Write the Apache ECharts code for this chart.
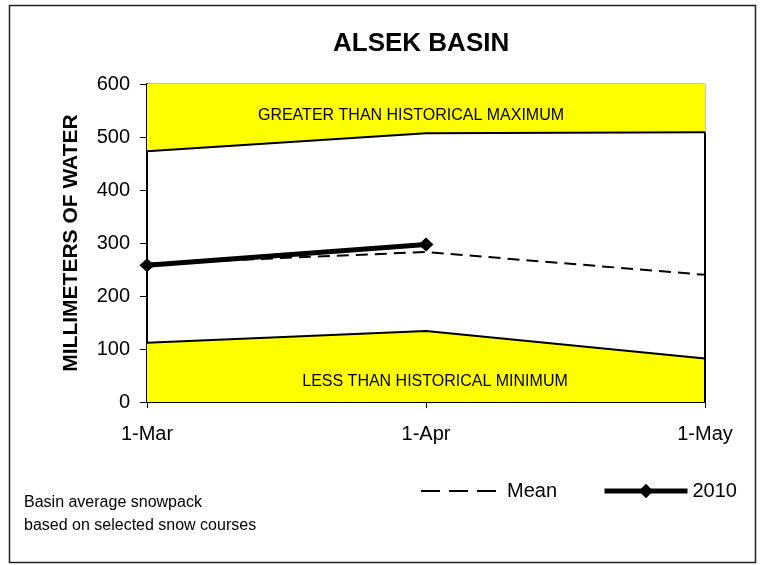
<!DOCTYPE html>
<html lang="en">
<head>
    <meta charset="UTF-8">
    <title>Alsek Basin snowpack</title>
    <script src="https://cdn.jsdelivr.net/npm/echarts@6/dist/echarts.min.js"></script>
    <style>
        html, body { margin: 0; padding: 0; background: #fff; }
        #chart { width: 765px; height: 565px; }
    </style>
</head>
<body>
<div id="chart"></div>
<script type="text/javascript">
    const months = ['1-Mar', '1-Apr', '1-May'];
    const yTicks = [0, 100, 200, 300, 400, 500, 600];
    const histMax = [473, 507, 509];
    const histMin = [112, 134, 82];
    const meanVals = [261, 283, 240];
    const vals2010 = [258, 297, null];

    const font = '"Liberation Sans", Arial, sans-serif';
    const yellow = '#ffff00';

    let chart = echarts.init(document.getElementById('chart'));

    chart.setOption({
        animation: false,
        title: {
            text: 'ALSEK BASIN',
            left: 333,
            top: 31,
            padding: 0,
            textStyle: { fontFamily: font, fontSize: 26, fontWeight: 'bold', color: '#000' }
        },
        grid: {
            left: 147, right: 60, top: 84, bottom: 163,
            show: true, borderColor: '#888', borderWidth: 1, backgroundColor: 'transparent'
        },
        legend: [
            {
                data: ['Mean'],
                left: 420, top: 481, padding: 0,
                itemWidth: 76, itemHeight: 18,
                textStyle: { fontFamily: font, fontSize: 20, color: '#000', padding: [0, 0, 0, 5] },
                lineStyle: { width: 2, type: [19, 9] },
                itemStyle: { opacity: 0 }
            },
            {
                data: ['2010'],
                left: 602, top: 481, padding: 0,
                itemWidth: 83, itemHeight: 18,
                textStyle: { fontFamily: font, fontSize: 20, color: '#000' },
                lineStyle: { width: 5 }
            }
        ],
        xAxis: [
            {
                type: 'category',
                data: months,
                boundaryGap: false,
                axisLine: { lineStyle: { color: '#000', width: 2 } },
                axisTick: { length: 6, lineStyle: { color: '#000' } },
                axisLabel: { margin: 22, fontFamily: font, fontSize: 20, color: '#000' }
            },
            {
                type: 'category',
                data: months,
                boundaryGap: false,
                position: 'bottom',
                axisLine: { show: false },
                axisTick: { inside: true, length: 6, lineStyle: { color: '#000' } },
                axisLabel: { show: false }
            }
        ],
        yAxis: {
            type: 'value',
            min: yTicks[0],
            max: yTicks[yTicks.length - 1],
            interval: 100,
            name: 'MILLIMETERS OF WATER',
            nameLocation: 'middle',
            nameGap: 65,
            nameTextStyle: { fontFamily: font, fontSize: 21, fontWeight: 'bold', color: '#000' },
            axisLine: { show: true, lineStyle: { color: '#000', width: 2 } },
            axisTick: { show: true, length: 7, lineStyle: { color: '#000' } },
            axisLabel: { margin: 17, fontFamily: font, fontSize: 20, color: '#000' },
            splitLine: { show: false }
        },
        series: [
            {
                name: 'Maximum',
                type: 'line',
                data: histMax,
                symbol: 'none',
                lineStyle: { color: '#000', width: 2 },
                areaStyle: { color: yellow, opacity: 1, origin: 'end' },
                z: 1
            },
            {
                name: 'Minimum',
                type: 'line',
                data: histMin,
                symbol: 'none',
                lineStyle: { color: '#000', width: 2 },
                areaStyle: { color: yellow, opacity: 1, origin: 'start' },
                z: 1,
                markLine: {
                    silent: true,
                    symbol: 'none',
                    label: { show: false },
                    lineStyle: { color: '#000', width: 2, type: 'solid' },
                    data: [[
                        { coord: [months[months.length - 1], 0] },
                        { coord: [months[months.length - 1], histMax[histMax.length - 1]] }
                    ]]
                }
            },
            {
                name: 'Mean',
                type: 'line',
                data: meanVals,
                symbol: 'none',
                lineStyle: { color: '#000', width: 2, type: [12, 7] },
                itemStyle: { color: '#000' },
                z: 3
            },
            {
                name: '2010',
                type: 'line',
                data: vals2010,
                symbol: 'diamond',
                symbolSize: [15, 14],
                lineStyle: { color: '#000', width: 5 },
                itemStyle: { color: '#000' },
                z: 4
            }
        ],
        graphic: [
            {
                type: 'rect',
                shape: { x: 9.5, y: 5.5, width: 746, height: 557 },
                style: { fill: 'none', stroke: '#222', lineWidth: 1.5 },
                z: 100
            },
            {
                type: 'text',
                x: 411, y: 116,
                style: { text: 'GREATER THAN HISTORICAL MAXIMUM', fontFamily: font, fontSize: 16, fill: '#000', align: 'center', verticalAlign: 'middle' },
                z: 100
            },
            {
                type: 'text',
                x: 435, y: 382,
                style: { text: 'LESS THAN HISTORICAL MINIMUM', fontFamily: font, fontSize: 16, fill: '#000', align: 'center', verticalAlign: 'middle' },
                z: 100
            },
            {
                type: 'text',
                x: 24, y: 491,
                style: { text: 'Basin average snowpack\nbased on selected snow courses', fontFamily: font, fontSize: 16, lineHeight: 23, fill: '#000' },
                z: 100
            }
        ]
    });
</script>
</body>
</html>
